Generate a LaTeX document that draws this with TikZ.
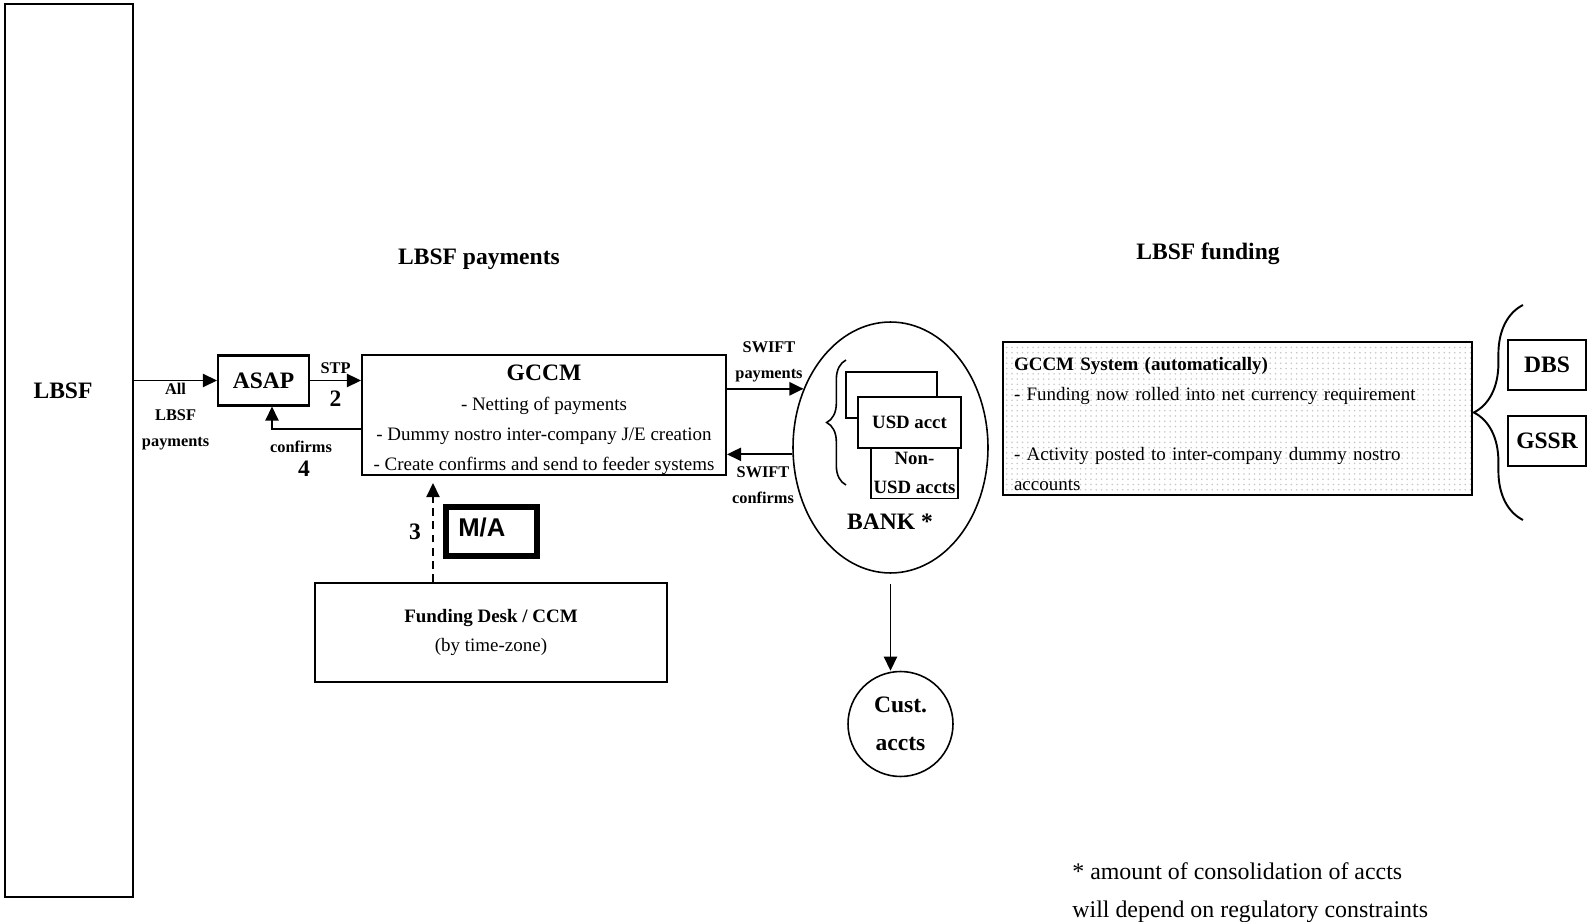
\documentclass[tikz,border=0pt]{standalone}
\usepackage{fontspec}
\setmainfont{Liberation Serif}
\newfontfamily\arialfont{Liberation Sans}
\usetikzlibrary{arrows.meta,decorations.pathreplacing,patterns,shapes.geometric}

\begin{document}
\begin{tikzpicture}[x=0.02cm,y=-0.02cm,
    box/.style={draw,rectangle,line width=1.2pt,inner sep=0pt},
    thin/.style={line width=0.9pt},
    big/.style={font=\bfseries\fontsize{13.4}{16}\selectfont},
    small/.style={font=\bfseries\fontsize{9.3}{14.7}\selectfont,align=center},
    txt/.style={font=\fontsize{10.8}{17}\selectfont},
    arr/.style={-{Triangle[length=8pt,width=7.5pt]},line width=1.1pt},
    bracket/.style={decorate,decoration={brace,amplitude=#1}}]
    \useasboundingbox (0,0) rectangle (1587,922);

    % left side
    \node[box,line width=1.4pt,minimum width=2.56cm,minimum height=17.86cm] (LBSF) at (69,450.5) {};
    \node[big] (LBSFlbl) at (63,391) {LBSF};
    \node[box,big,minimum width=1.82cm,minimum height=1cm] (ASAP) at (263.5,380.5) {ASAP};
    \node[big] (paytitle) at (479,259) {LBSF payments};
    \node[big] (fundtitle) at (1208,254) {LBSF funding};

    \node[box,txt,align=center,minimum width=7.28cm,minimum height=2.4cm] (GCCM) at (544,415)
        {\rule{0pt}{14.5pt}{\bfseries\fontsize{13.4}{16}\selectfont GCCM}\\- Netting of payments\\- Dummy nostro inter-company J/E creation\\- Create confirms and send to feeder systems};

    \path [draw,arr] (LBSF.east |- ASAP.west) -- (ASAP.west)
        node[small,midway,below,inner sep=1pt] (allpay) {All\\LBSF\\payments};
    \path [draw,arr] (ASAP) -- (GCCM.west |- ASAP)
        node[small,midway,above,yshift=0pt] (stp) {STP}
        node[big,midway,below,yshift=-2pt] (two) {2};
    \path [draw,arr] (GCCM.west |- 0,429) -| (272,0 |- ASAP.south);
    \node[small] (conf) at (301,447) {confirms};
    \node[big] (four) at (304,469) {4};

    % funding desk
    \node[box,line width=3.4pt,minimum width=1.82cm,minimum height=0.98cm,text width=1.33cm,inner xsep=7pt,
        align=left,text height=10.5pt,text depth=5pt,font=\arialfont\bfseries\fontsize{14.6}{16}\selectfont] (MA) at (491.5,531.5) {M/A};
    \node[box,txt,align=center,minimum width=7.04cm,minimum height=1.98cm] (DESK) at (491,632.5)
        {\textbf{Funding Desk / CCM}\\(by time-zone)};
    \path [draw,arr,dash pattern=on 4.5pt off 3pt,shorten >=0.14cm] (DESK.north -| 433,0) -- (GCCM.south -| 433,0);
    \node[big] (three) at (415,532) {3};

    % bank
    \node[draw,ellipse,thin,inner sep=0pt,minimum width=3.9cm,minimum height=5.02cm] (BANK) at (890.5,447.5) {};
    \node[box,thin,minimum width=1.82cm,minimum height=0.92cm] (back) at (891.5,395) {};
    \node[box,thin,fill=white,align=center,font=\bfseries\fontsize{10.7}{16.5}\selectfont,
        minimum width=1.74cm,minimum height=1.02cm] (NONUSD) at (914.5,473) {Non-\\USD accts};
    \node[box,thin,fill=white,font=\bfseries\fontsize{10.7}{16.5}\selectfont,
        minimum width=2.06cm,minimum height=1.02cm] (USD) at (909.5,422.5) {USD acct};
    \draw[bracket=11pt,thin] (846,485) -- (846,360);
    \node[big] (banklbl) at (890,522) {BANK *};

    \path [draw,arr] (GCCM.east |- BANK.146) -- (BANK.146);
    \path [draw,arr] (BANK.184) -- (GCCM.east |- BANK.184);
    \node[small] (swpay) at (769,362) {SWIFT\\payments};
    \node[small] (swconf) at (763,485) {SWIFT\\confirms};

    \node[draw,circle,thin,inner sep=0pt,minimum size=2.1cm,align=center,
        font=\bfseries\fontsize{13.4}{21.6}\selectfont] (CUST) at (900.5,724) {Cust.\\accts};
    \path [draw,arr,shorten <=0.2cm] (BANK.south) -- (BANK.south |- CUST.north);

    % funding side
    \node[box,pattern=dots,pattern color=gray!45,txt,align=left,minimum width=9.38cm,minimum height=3.06cm,
        text width=8.94cm,inner xsep=0.22cm] (FUND) at (1237.5,418.5)
        {\rule{0pt}{13.5pt}\textbf{GCCM System (automatically)}\\- Funding now rolled into net currency requirement\\[17pt]- Activity posted to inter-company dummy nostro\\accounts};
    \draw[bracket=28pt,line width=1.1pt] (1523,520) -- (1523,305);
    \node[box,big,minimum width=1.56cm,minimum height=1cm] (DBS) at (1547,365) {DBS};
    \node[box,big,minimum width=1.56cm,minimum height=1cm] (GSSR) at (1547,441) {GSSR};

    \node[font=\fontsize{13.6}{21.5}\selectfont,align=left,anchor=west,inner sep=0pt] (note) at (1072,893)
        {* amount of consolidation of accts\\will depend on regulatory constraints};
\end{tikzpicture}
\end{document}
